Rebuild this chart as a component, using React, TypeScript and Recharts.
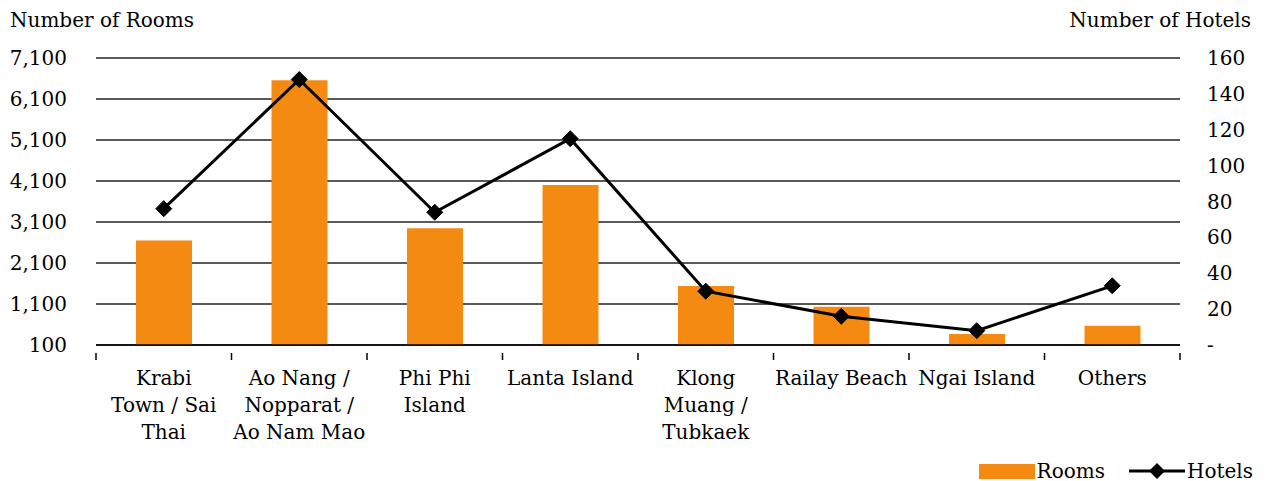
import React from 'react';
import {
  ComposedChart,
  Bar,
  Line,
  XAxis,
  YAxis,
  CartesianGrid,
  Legend,
} from 'recharts';

const categories = [
  'Krabi Town / Sai Thai',
  'Ao Nang / Nopparat / Ao Nam Mao',
  'Phi Phi Island',
  'Lanta Island',
  'Klong Muang / Tubkaek',
  'Railay Beach',
  'Ngai Island',
  'Others',
];

// how each category name wraps under the axis
const categoryLines = [
  ['Krabi', 'Town / Sai', 'Thai'],
  ['Ao Nang /', 'Nopparat /', 'Ao Nam Mao'],
  ['Phi Phi', 'Island'],
  ['Lanta Island'],
  ['Klong', 'Muang /', 'Tubkaek'],
  ['Railay Beach'],
  ['Ngai Island'],
  ['Others'],
];

const rooms = [2650, 6560, 2950, 4000, 1540, 1030, 370, 570];
const hotels = [76, 148, 74, 115, 30, 16, 8, 33];

const roomTicks = [100, 1100, 2100, 3100, 4100, 5100, 6100, 7100];
const hotelTicks = [0, 20, 40, 60, 80, 100, 120, 140, 160];

const FONT = '"DejaVu Serif", serif';
const ORANGE = '#F58A12';

const WIDTH = 1265;
const HEIGHT = 481;
const PLOT_LEFT = 96;
const PLOT_RIGHT = 1180;
const BAND = (PLOT_RIGHT - PLOT_LEFT) / categories.length;

const data = categories.map((name, i) => ({
  name,
  rooms: rooms[i],
  hotels: hotels[i],
}));

const CategoryTick = (props: any) => {
  const { x, y, index, payload } = props;
  const idx = payload.index ?? index;
  const lines = categoryLines[idx] ?? [payload.value];
  const left = x - BAND / 2;
  const isLast = idx === categories.length - 1;
  return (
    <g>
      <line x1={left} x2={left} y1={y} y2={y + 7} stroke="#000" strokeWidth={1.5} />
      {isLast && (
        <line x1={x + BAND / 2} x2={x + BAND / 2} y1={y} y2={y + 7} stroke="#000" strokeWidth={1.5} />
      )}
      <text x={x} y={y + 32} textAnchor="middle" fontFamily={FONT} fontSize={20} fill="#000">
        {lines.map((l: string, i: number) => (
          <tspan key={i} x={x} dy={i === 0 ? 0 : 27}>
            {l}
          </tspan>
        ))}
      </text>
    </g>
  );
};

const Diamond = (props: any) => {
  const { cx, cy } = props;
  if (cx == null || cy == null) return null;
  const r = 8;
  return (
    <polygon
      points={`${cx},${cy - r} ${cx + r},${cy} ${cx},${cy + r} ${cx - r},${cy}`}
      fill="#000"
      stroke="#000"
      strokeWidth={1}
      strokeLinejoin="round"
    />
  );
};

const LegendContent = () => (
  <div
    style={{
      display: 'flex',
      justifyContent: 'flex-end',
      alignItems: 'center',
      fontFamily: FONT,
      fontSize: 20,
      lineHeight: '20px',
      color: '#000',
      paddingRight: 12,
    }}
  >
    <svg width={56} height={16} style={{ marginRight: 2 }}>
      <rect x={0} y={1} width={56} height={15} fill={ORANGE} />
    </svg>
    <span style={{ marginRight: 24 }}>Rooms</span>
    <svg width={56} height={18} style={{ marginRight: 2 }}>
      <line x1={0} x2={56} y1={9} y2={9} stroke="#000" strokeWidth={3} />
      <polygon points="28,1 36,9 28,17 20,9" fill="#000" />
    </svg>
    <span>Hotels</span>
  </div>
);

export default function App() {
  return (
    <div style={{ position: 'absolute', left: 0, top: 0, width: WIDTH, height: HEIGHT, background: '#fff' }}>
      <div style={{ position: 'absolute', left: 10, top: 8, fontFamily: FONT, fontSize: 20, color: '#000' }}>
        Number of Rooms
      </div>
      <div style={{ position: 'absolute', right: 14, top: 8, fontFamily: FONT, fontSize: 20, color: '#000' }}>
        Number of Hotels
      </div>
      <ComposedChart
        width={WIDTH}
        height={HEIGHT}
        data={data}
        margin={{ top: 58, right: 0, left: 0, bottom: 0 }}
      >
        <CartesianGrid vertical={false} stroke="#222" strokeWidth={1.4} yAxisId="rooms" />
        <XAxis
          dataKey="name"
          tick={<CategoryTick />}
          tickLine={false}
          axisLine={{ stroke: '#000', strokeWidth: 1.5 }}
          height={100}
          interval={0}
        />
        <YAxis
          yAxisId="rooms"
          domain={[100, 7100]}
          ticks={roomTicks}
          tickFormatter={(v) => v.toLocaleString('en-US')}
          width={PLOT_LEFT}
          axisLine={false}
          tickLine={false}
          tickSize={0}
          tickMargin={29}
          tick={{ fill: '#000', fontSize: 20, fontFamily: FONT }}
          allowDataOverflow
        />
        <YAxis
          yAxisId="hotels"
          orientation="right"
          domain={[0, 160]}
          ticks={hotelTicks}
          tickFormatter={(v) => (v === 0 ? '-' : String(v))}
          width={WIDTH - PLOT_RIGHT}
          axisLine={false}
          tickLine={false}
          tickSize={0}
          tickMargin={27}
          tick={{ fill: '#000', fontSize: 20, fontFamily: FONT, textAnchor: 'start' }}
        />
        <Legend
          verticalAlign="bottom"
          align="right"
          height={36}
          wrapperStyle={{ top: 461, bottom: 'auto' }}
          content={<LegendContent />}
        />
        <Bar yAxisId="rooms" dataKey="rooms" name="Rooms" fill={ORANGE} barSize={56} isAnimationActive={false} />
        <Line
          yAxisId="hotels"
          dataKey="hotels"
          name="Hotels"
          stroke="#000"
          strokeWidth={3}
          dot={<Diamond />}
          activeDot={false}
          isAnimationActive={false}
        />
      </ComposedChart>
    </div>
  );
}
